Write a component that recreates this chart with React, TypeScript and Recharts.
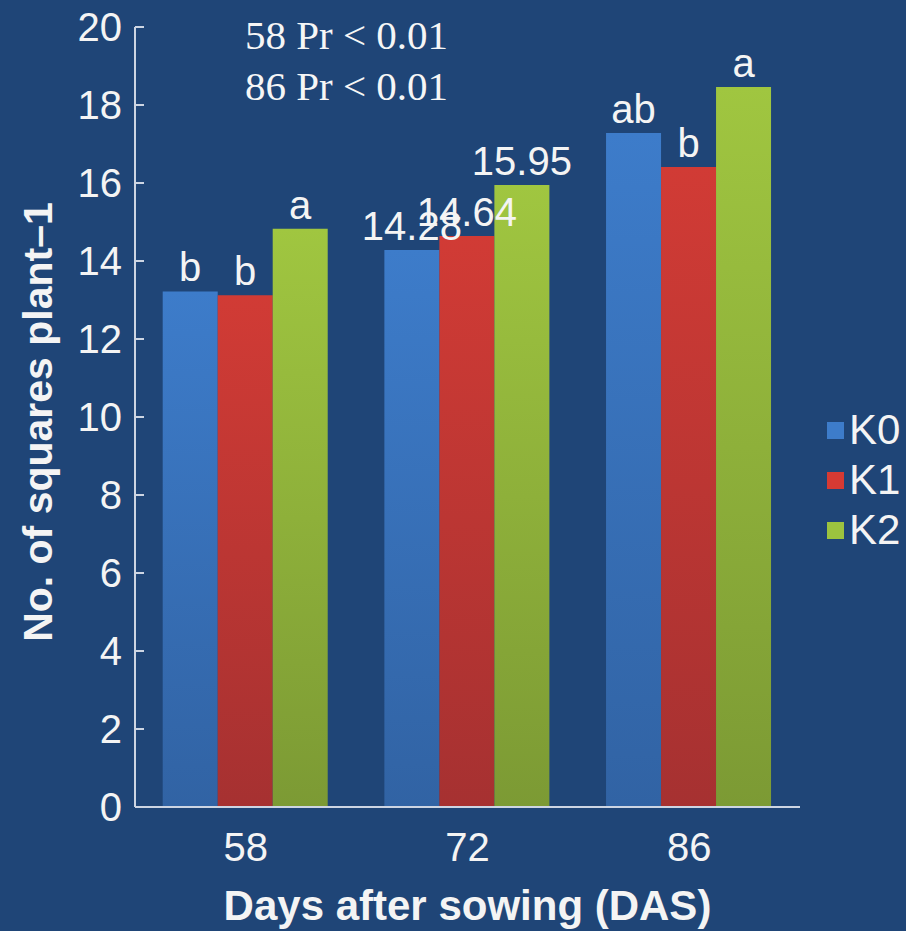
import React from 'react';
import { BarChart, Bar, XAxis, YAxis, Legend, LabelList, Label } from 'recharts';

const days = ['58', '72', '86'];
const k0 = [13.22, 14.28, 17.28];
const k1 = [13.12, 14.64, 16.41];
const k2 = [14.83, 15.95, 18.46];
const k0Labels = ['b', '14.28', 'ab'];
const k1Labels = ['b', '14.64', 'b'];
const k2Labels = ['a', '15.95', 'a'];
const yTicks = [0, 2, 4, 6, 8, 10, 12, 14, 16, 18, 20];
const notes = ['58 Pr < 0.01', '86 Pr < 0.01'];

const data = days.map((day, i) => ({
  day,
  K0: k0[i],
  K1: k1[i],
  K2: k2[i],
  K0l: k0Labels[i],
  K1l: k1Labels[i],
  K2l: k2Labels[i],
}));

const series = [
  { key: 'K0', top: '#3d7cca', bottom: '#3163a4', swatch: '#3d7cca' },
  { key: 'K1', top: '#d13b35', bottom: '#a63131', swatch: '#d63a33' },
  { key: 'K2', top: '#a0c640', bottom: '#7c9a34', swatch: '#9cc33f' },
];

const BG = '#1f4577';
const AXIS = '#cdd5e3';
const SANS = '"Liberation Sans", Arial, sans-serif';

const barLabel = (props: any) => {
  const { x, y, width, value } = props;
  return (
    <text x={Number(x) + Number(width) / 2} y={Number(y) - 10} textAnchor="middle"
      fill="#f4f4f4" fontSize={40} fontFamily={SANS}>
      {value}
    </text>
  );
};

const LegendBox = () => (
  <div style={{ fontFamily: SANS, color: '#f4f4f4' }}>
    {series.map((s) => (
      <div key={s.key} style={{ display: 'flex', alignItems: 'center', height: 50 }}>
        <div style={{ width: 17, height: 17, background: s.swatch, marginRight: 5 }} />
        <span style={{ fontSize: 42, lineHeight: '50px' }}>{s.key}</span>
      </div>
    ))}
  </div>
);

export default function App() {
  return (
    <div style={{ position: 'absolute', left: 0, top: 0, width: 906, height: 931, background: BG }}>
      <BarChart width={906} height={931} data={data}
        margin={{ top: 27, right: 27, bottom: 0, left: 0 }}
        barCategoryGap="12.5%" barGap={0}>
        <defs>
          {series.map((s) => (
            <linearGradient key={s.key} id={`grad${s.key}`} x1="0" y1="0" x2="0" y2="1">
              <stop offset="0%" stopColor={s.top} />
              <stop offset="100%" stopColor={s.bottom} />
            </linearGradient>
          ))}
        </defs>
        <XAxis dataKey="day" height={124} tickLine={false} tickSize={0} tickMargin={26}
          axisLine={{ stroke: AXIS, strokeWidth: 2 }}
          tick={{ fill: '#f4f4f4', fontSize: 40, fontFamily: SANS }}>
          <Label content={({ viewBox }: any) => (
            <text x={viewBox.x + viewBox.width / 2} y={viewBox.y + 113} textAnchor="middle"
              fill="#f4f4f4" fontSize={42} fontWeight="bold" fontFamily={SANS}>
              Days after sowing (DAS)
            </text>
          )} />
        </XAxis>
        <YAxis width={135} domain={[0, 20]} ticks={yTicks} interval={0}
          tickSize={-9} tickMargin={22}
          axisLine={{ stroke: AXIS, strokeWidth: 2 }}
          tickLine={{ stroke: AXIS, strokeWidth: 2 }}
          tick={{ fill: '#f4f4f4', fontSize: 40, fontFamily: SANS }}>
          <Label content={({ viewBox }: any) => {
            const cx = viewBox.x + 38;
            const cy = viewBox.y + viewBox.height / 2 + 5;
            return (
              <text x={cx} y={cy} transform={`rotate(-90, ${cx}, ${cy})`} textAnchor="middle"
                dominantBaseline="central" fill="#f4f4f4" fontSize={41} fontWeight="bold"
                fontFamily={SANS}>
                No. of squares plant–1
              </text>
            );
          }} />
        </YAxis>
        <Legend layout="vertical" align="right" verticalAlign="middle" content={LegendBox}
          wrapperStyle={{ left: 827, top: 405, width: 79 }} />
        {series.map((s) => (
          <Bar key={s.key} dataKey={s.key} fill={`url(#grad${s.key})`} isAnimationActive={false}>
            <LabelList dataKey={`${s.key}l`} content={barLabel} />
          </Bar>
        ))}
      </BarChart>
      {notes.map((n, i) => (
        <div key={n} style={{
          position: 'absolute', left: 245, top: 10 + i * 51, lineHeight: '51px',
          fontSize: 41, fontFamily: '"Liberation Serif", "Times New Roman", serif',
          color: '#f6f6f6', whiteSpace: 'nowrap',
        }}>{n}</div>
      ))}
    </div>
  );
}
